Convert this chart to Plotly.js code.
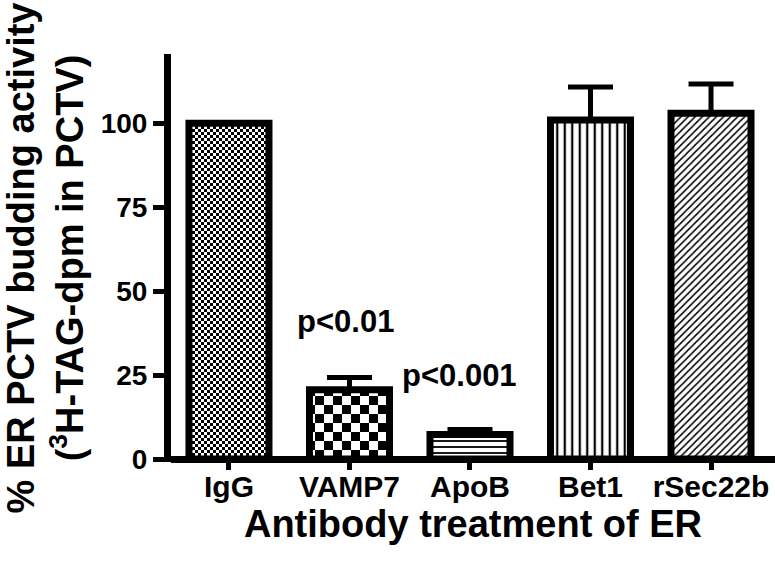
<!DOCTYPE html>
<html>
<head>
<meta charset="utf-8">
<script src="https://cdn.plot.ly/plotly-3.0.1.min.js"></script>
<style>html,body{margin:0;padding:0;background:#fff;}#chart{width:775px;height:561px;}</style>
</head>
<body>
<div id="chart"></div>
<script>
// ---- data ----
const categories = ["IgG", "VAMP7", "ApoB", "Bet1", "rSec22b"];
const activity = [100, 20.6, 7.3, 101, 103];
const errUp = [0, 3.7, 1.5, 9.8, 8.7];
const yTickVals = [0, 25, 50, 75, 100];
const yTickText = ["0", "25", "50", "75", "100"];
const pLabels = ["p<0.01", "p<0.001"];

const FONT = "Liberation Sans, Arial, sans-serif";

const trace = {
  type: "bar",
  x: categories,
  y: activity,
  width: 0.664,
  marker: {
    color: "#ffffff",
    line: { color: "#000000", width: 7 },
    pattern: {
      shape: ["+", "+", "-", "|", "/"],
      size: [6, 18, 6, 7.5, 5],
      solidity: [0.5, 0.5, 0.3, 0.3, 0.3],
      fgcolor: "#000000",
      bgcolor: "#ffffff",
      fillmode: "replace"
    }
  },
  error_y: {
    type: "data",
    symmetric: false,
    array: errUp,
    arrayminus: errUp.map(() => 0),
    color: "#000000",
    thickness: 5,
    width: 22.5,
    visible: true
  },
  hoverinfo: "skip"
};

const layout = {
  width: 775,
  height: 561,
  margin: { l: 171, r: 0, t: 54, b: 99, pad: 0 },
  paper_bgcolor: "#ffffff",
  plot_bgcolor: "#ffffff",
  showlegend: false,
  font: { family: FONT, color: "#000000", size: 28, weight: 700 },
  xaxis: {
    type: "category",
    range: [-0.481, 4.531],
    showline: false,
    showgrid: false,
    zeroline: false,
    ticks: "outside",
    ticklen: 7,
    tickwidth: 5,
    tickcolor: "#000000",
    ticklabelstandoff: -9,
    tickfont: { family: FONT, size: 30, weight: 700, color: "#000000" },
    title: {
      text: "Antibody treatment of ER",
      font: { family: FONT, size: 38, weight: 700, color: "#000000" },
      standoff: 0
    },
    automargin: false
  },
  yaxis: {
    range: [-0.894, 120.64],
    showline: true,
    linewidth: 7,
    linecolor: "#000000",
    showgrid: false,
    zeroline: true,
    zerolinewidth: 7,
    zerolinecolor: "#000000",
    ticks: "outside",
    ticklen: 11,
    tickwidth: 5,
    tickcolor: "#000000",
    tickvals: yTickVals,
    ticktext: yTickText,
    tickfont: { family: FONT, size: 28, weight: 700, color: "#000000" },
    title: {
      text: "% ER PCTV budding activity<br>(<sup>3</sup>H-TAG-dpm in PCTV)",
      font: { family: FONT, size: 38, weight: 700, color: "#000000" },
      standoff: 10
    },
    automargin: false
  },
  annotations: [
    { x: 0.97, y: 41, xref: "x", yref: "y", text: pLabels[0], showarrow: false,
      font: { family: FONT, size: 31, weight: 700, color: "#000000" } },
    { x: 1.917, y: 25, xref: "x", yref: "y", text: pLabels[1], showarrow: false,
      font: { family: FONT, size: 31, weight: 700, color: "#000000" } }
  ]
};

const gd = document.getElementById("chart");
Plotly.newPlot(gd, [trace], layout, { staticPlot: true, displayModeBar: false }).then(() => {
  // turn the first two pattern fills into checkerboards
  const NS = "http://www.w3.org/2000/svg";
  const cells = { 0: 3, 1: 9 };
  const paths = gd.querySelectorAll(".barlayer .point path");
  paths.forEach((p, i) => {
    if (!(i in cells)) return;
    const st = p.getAttribute("style") || "";
    const m = st.match(/url\(["']?#([^"')]+)["']?\)/);
    if (!m) return;
    const pat = gd.querySelector('pattern[id="' + m[1] + '"]') || document.getElementById(m[1]);
    if (!pat) return;
    const c = cells[i];
    while (pat.firstChild) pat.removeChild(pat.firstChild);
    pat.setAttribute("width", 2 * c);
    pat.setAttribute("height", 2 * c);
    const mk = (x, y, w, h, f) => {
      const r = document.createElementNS(NS, "rect");
      r.setAttribute("x", x); r.setAttribute("y", y);
      r.setAttribute("width", w); r.setAttribute("height", h);
      r.setAttribute("fill", f);
      pat.appendChild(r);
    };
    mk(0, 0, 2 * c, 2 * c, "#ffffff");
    mk(0, 0, c, c, "#000000");
    mk(c, c, c, c, "#000000");
  });
});
</script>
</body>
</html>
